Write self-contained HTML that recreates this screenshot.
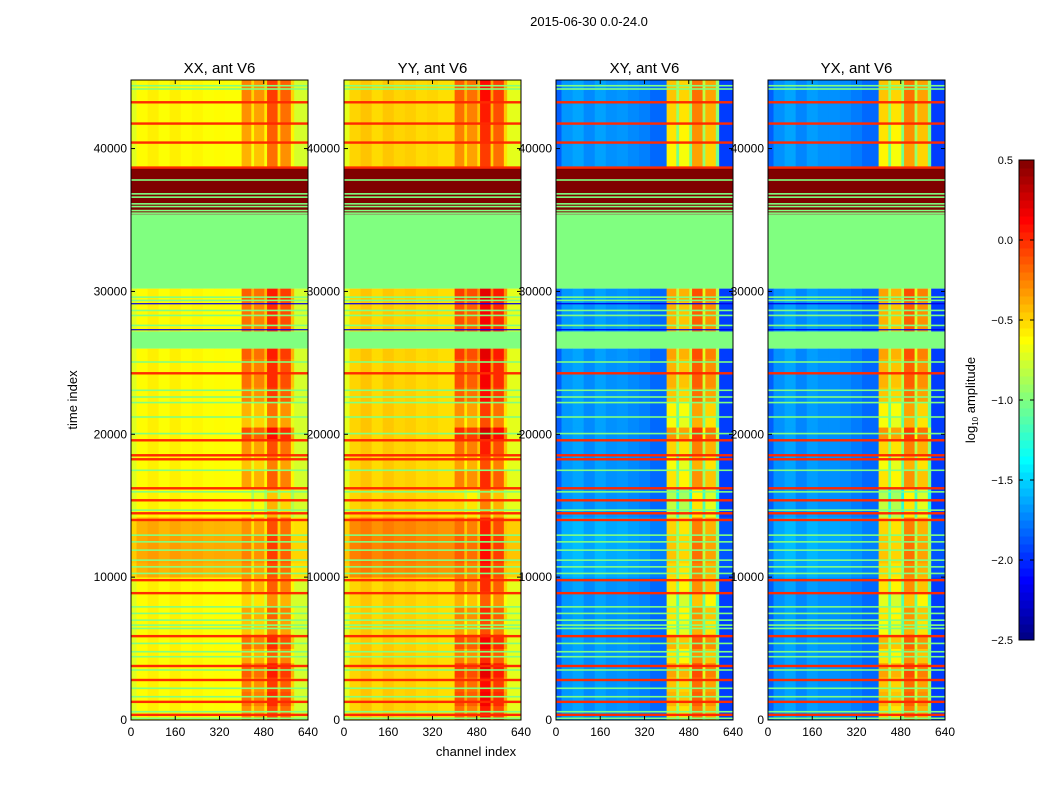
<!DOCTYPE html>
<html><head><meta charset="utf-8">
<style>
body{margin:0;background:#fff;width:1050px;height:800px;overflow:hidden;font-family:"Liberation Sans",sans-serif;}
svg text{font-family:"Liberation Sans",sans-serif;}
</style></head>
<body>
<svg id="fig" width="1050" height="800" xmlns="http://www.w3.org/2000/svg">
<text x="589" y="26" font-size="13" text-anchor="middle">2015-06-30 0.0-24.0</text>
<text x="476" y="756" font-size="13" text-anchor="middle">channel index</text>
<text transform="translate(77,400) rotate(-90)" font-size="13" text-anchor="middle">time index</text>
<text transform="translate(975,400) rotate(-90)" font-size="13" text-anchor="middle">log<tspan font-size="8" dy="3">10</tspan><tspan dy="-3"> amplitude</tspan></text>
<g id="panels"></g>
<g id="cbar"></g>
</svg>
<script>
// ---- data ----
const panelTitles = ["XX, ant V6","YY, ant V6","XY, ant V6","YX, ant V6"];
const xTicks = [0,160,320,480,640];
const yTicks = [0,10000,20000,30000,40000];
const cbarTicks = [0.5,0.0,-0.5,-1.0,-1.5,-2.0,-2.5];
// channel segment edges and per-panel values (log10 amplitude)
const chanEdges = [0,20,60,100,140,180,220,260,300,340,400,435,445,482,492,530,540,578,590,640];
const xxVals = [-0.72,-0.62,-0.58,-0.63,-0.58,-0.62,-0.6,-0.63,-0.62,-0.63,-0.35,-0.6,-0.4,-0.6,-0.15,-0.55,-0.25,-0.6,-0.75];
const yyVals = [-0.7,-0.5,-0.45,-0.52,-0.46,-0.5,-0.48,-0.52,-0.5,-0.53,-0.25,-0.5,-0.3,-0.5,0.0,-0.45,-0.15,-0.5,-0.7];
const xyVals = [-1.85,-1.68,-1.64,-1.72,-1.65,-1.7,-1.68,-1.72,-1.75,-1.82,-0.55,-1.0,-0.6,-1.0,-0.3,-0.9,-0.45,-1.0,-1.95];
const yxVals = [-1.85,-1.7,-1.64,-1.73,-1.66,-1.7,-1.7,-1.72,-1.76,-1.82,-0.55,-1.0,-0.6,-1.0,-0.3,-0.9,-0.45,-1.0,-1.95];
// time bands (start,end) with base shift and RFI boost
const bandStarts = [0,1000,2000,3000,4000,5000,6000,7000,8000,9000,10000,11000,12000,13000,14200,15400,16200,17500,18500,19600,20500,21300,22300,23300,24300,25300,27200,28300,29300,38700,40400,41700,43200];
const bandEnds   = [1000,2000,3000,4000,5000,6000,7000,8000,9000,10000,11000,12000,13000,14200,15400,16200,17500,18500,19600,20500,21300,22300,23300,24300,25300,26000,28300,29300,30200,40400,41700,43200,44800];
const bandShift  = [0,0,0,0,0,0,0,0,0,0,0.22,0.25,0.25,0.22,0,0,0,0,0,0,0,0,0,0,0,0,0,0,0,0,0,0,0];
const rfiBoost   = [0.05,0.15,0.1,0.2,0,0.15,-0.1,0,-0.15,0,0.05,0.1,0.1,0.05,-0.25,-0.3,0,-0.1,0.05,0.25,-0.1,-0.05,0.1,0.15,0.15,0.2,0.15,0.15,0.2,-0.05,0,0.05,0.1];
// flagged blocks
const flagStarts = [26000,30200,35400];
const flagEnds   = [27200,35400,38700];
const flagVals   = [-1.0,-1.0,0.5];
// horizontal line artefacts
const redLines   = [360,1270,2800,3780,5870,8880,9790,14000,14470,15380,16220,18250,18530,19580,24270,38670,40420,41750,43240];
const greenLines = [120,580,1630,2220,3500,4430,4780,5360,6410,6640,6990,7460,7920,10260,10720,11190,11890,12470,12940,14690,15970,17480,20050,21210,22220,22610,23080,25060,27620,28320,28670,29370,29600,35480,35660,35940,36130,36600,36830,37800,44170,44400];
const blueLines  = [27320,29140];

// ---- helpers ----
const NS="http://www.w3.org/2000/svg";
const vmin=-2.5, vmax=0.5;
function clamp(v){return Math.max(0,Math.min(1,v));}
function jet(v){
  const t=clamp((v-vmin)/(vmax-vmin));
  const r=clamp(1.5-Math.abs(4*t-3)),g=clamp(1.5-Math.abs(4*t-2)),b=clamp(1.5-Math.abs(4*t-1));
  return "rgb("+Math.round(r*255)+","+Math.round(g*255)+","+Math.round(b*255)+")";
}
const panelLefts=[131,344,556,768], PW=177, PT=80, PH=640, TMAX=44800, CMAX=640;
function mk(tag,attrs,parent){const e=document.createElementNS(NS,tag);for(const k in attrs)e.setAttribute(k,attrs[k]);parent.appendChild(e);return e;}

const panelsG=document.getElementById("panels");
const allVals=[xxVals,yyVals,xyVals,yxVals];
for(let p=0;p<4;p++){
  const L=panelLefts[p];
  const xs=c=>L+c/CMAX*PW;
  const ys=t=>PT+PH-t/TMAX*PH;
  const g=mk("g",{},panelsG);
  
  
  const vals=allVals[p];
  for(let b=0;b<bandStarts.length;b++){
    for(let c=0;c<vals.length;c++){
      const rfi=chanEdges[c]>=400&&chanEdges[c]<590;
      let v=vals[c]+(rfi?rfiBoost[b]:bandShift[b]*(p<2?1:0.3));
      const y0=ys(bandEnds[b]),y1=ys(bandStarts[b]);
      const r=mk("rect",{x:xs(chanEdges[c]),y:y0,width:xs(chanEdges[c+1])-xs(chanEdges[c])+0.4,height:y1-y0+0.4,fill:jet(v)},g);
      
      
    }
  }
  for(let f=0;f<flagStarts.length;f++){
    const y0=ys(flagEnds[f]),y1=ys(flagStarts[f]);
    const r=mk("rect",{x:L,y:y0,width:PW,height:y1-y0,fill:jet(flagVals[f])},g);
    
    
  }
  const lineSets=[[greenLines,-1.0,1.6],[redLines,0.0,2.4],[blueLines,-2.2,1.2]];
  for(const [arr,v,h] of lineSets){
    for(const t of arr){
      const r=mk("rect",{x:L,y:ys(t)-h/2,width:PW,height:h,fill:jet(v)},g);
      
      
    }
  }
  const fr=mk("rect",{x:L,y:PT,width:PW,height:PH,fill:"none",stroke:"#000","stroke-width":1},g);
  
  
  const tt=mk("text",{x:L+PW/2,y:PT-7,"font-size":15,"text-anchor":"middle"},g);
  tt.textContent=panelTitles[p];
  
  
  for(const xv of xTicks){
    const x=xs(xv);
    mk("line",{x1:x,x2:x,y1:PT+PH,y2:PT+PH-4,stroke:"#000"},g);
    mk("line",{x1:x,x2:x,y1:PT,y2:PT+4,stroke:"#000"},g);
    const tx=mk("text",{x:x,y:PT+PH+16,"font-size":12,"text-anchor":"middle"},g);
    tx.textContent=xv;
    
    
  }
  for(const yv of yTicks){
    const y=ys(yv);
    mk("line",{x1:L,x2:L+4,y1:y,y2:y,stroke:"#000"},g);
    mk("line",{x1:L+PW,x2:L+PW-4,y1:y,y2:y,stroke:"#000"},g);
    const tx=mk("text",{x:L-4,y:y+4,"font-size":12,"text-anchor":"end"},g);
    tx.textContent=yv;
    
    
  }
}
// colorbar
const cb=document.getElementById("cbar");
const CX=1019,CW=15,CT=160,CH=480;
const cy=v=>CT+(vmax-v)/(vmax-vmin)*CH;
for(let i=0;i<60;i++){
  const v0=vmin+i*(vmax-vmin)/60;
  const r=mk("rect",{x:CX,y:cy(v0+(vmax-vmin)/60),width:CW,height:CH/60+0.5,fill:jet(v0+(vmax-vmin)/120)},cb);
  
  
}
const cf=mk("rect",{x:CX,y:CT,width:CW,height:CH,fill:"none",stroke:"#000"},cb);


for(const v of cbarTicks){
  const y=cy(v);
  mk("line",{x1:CX,x2:CX+4,y1:y,y2:y,stroke:"#000"},cb);
  mk("line",{x1:CX+CW,x2:CX+CW-4,y1:y,y2:y,stroke:"#000"},cb);
  const t=mk("text",{x:1013,y:y+4,"font-size":11,"text-anchor":"end"},cb);
  t.textContent=(v<0?"\u2212":"")+Math.abs(v).toFixed(1);
  
  
}
</script>
</body></html>
